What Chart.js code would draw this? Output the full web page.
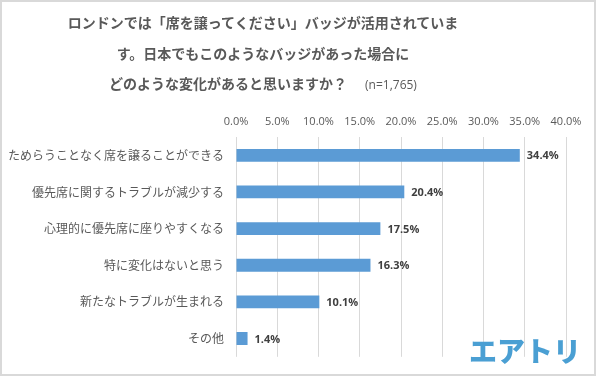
<!DOCTYPE html>
<html><head><meta charset="utf-8">
<script src="https://cdn.jsdelivr.net/npm/chart.js@4"></script>
<style>
html,body{margin:0;padding:0;background:#fff;}
#wrap{position:relative;width:596px;height:376px;overflow:hidden;}
#frame{position:absolute;left:0;top:0;width:596px;height:376px;box-sizing:border-box;border:2px solid #d9d9d9;pointer-events:none;}
.t{position:absolute;left:0;width:526px;text-align:center;font-family:"Noto Sans CJK JP";font-weight:bold;font-size:14px;color:#595959;line-height:20px;white-space:nowrap;}
.n{font-weight:normal;font-size:12px;margin-left:18px;font-family:"Open Sans","Noto Sans CJK JP";}
#logo{position:absolute;left:469px;top:330px;font-family:"Noto Sans CJK JP";font-weight:900;font-size:28px;color:#4a9fd3;letter-spacing:0px;line-height:40px;}
</style></head>
<body><div id="wrap">
<canvas id="c" width="596" height="376"></canvas>
<div class="t" style="top:12px">ロンドンでは「席を譲ってください」バッジが活用されていま</div>
<div class="t" style="top:43px">す。日本でもこのようなバッジがあった場合に</div>
<div class="t" style="top:73px">どのような変化があると思いますか？<span class="n">(n=1,765)</span></div>
<div id="logo">エアトリ</div>
<div id="frame"></div>
</div>
<script>
const categories = ["ためらうことなく席を譲ることができる","優先席に関するトラブルが減少する","心理的に優先席に座りやすくなる","特に変化はないと思う","新たなトラブルが生まれる","その他"];
const values = [34.4, 20.4, 17.5, 16.3, 10.1, 1.4];
const tickMin = 0, tickMax = 40, tickStep = 5;

const labelPlugin = {
  id: 'vals',
  afterDatasetsDraw(chart) {
    const ctx = chart.ctx;
    const meta = chart.getDatasetMeta(0);
    ctx.save();
    ctx.font = 'bold 11px "Open Sans", "Noto Sans"';
    ctx.fillStyle = '#404040';
    ctx.textAlign = 'left';
    ctx.textBaseline = 'middle';
    meta.data.forEach((bar, i) => {
      ctx.fillText(values[i].toFixed(1) + '%', bar.x + 7, bar.y + 1);
    });
    ctx.restore();
  }
};

new Chart(document.getElementById('c'), {
  type: 'bar',
  data: { labels: categories, datasets: [{ data: values, backgroundColor: '#5b9bd5', barPercentage: 0.7, categoryPercentage: 0.5 }] },
  options: {
    indexAxis: 'y',
    responsive: false,
    animation: false,
    layout: { padding: { top: 108, right: 30, bottom: 15, left: 0 } },
    plugins: { legend: { display: false }, tooltip: { enabled: false } },
    scales: {
      x: {
        position: 'top', min: tickMin, max: tickMax,
        afterFit(s) { s.height = 29; },
        ticks: { stepSize: tickStep, padding: 9, color: '#595959', font: { size: 11, family: '"Open Sans", "Noto Sans"' }, callback: v => v.toFixed(1) + '%' },
        grid: { color: '#d9d9d9', drawTicks: false, lineWidth: 1 },
        border: { display: false }
      },
      y: {
        afterFit(s) { s.width = 236; },
        ticks: { padding: 12, color: '#595959', font: { size: 12, family: '"Noto Sans CJK JP"' } },
        grid: { display: false, drawTicks: false },
        border: { display: false }
      }
    }
  },
  plugins: [labelPlugin]
});
</script>
</body></html>
